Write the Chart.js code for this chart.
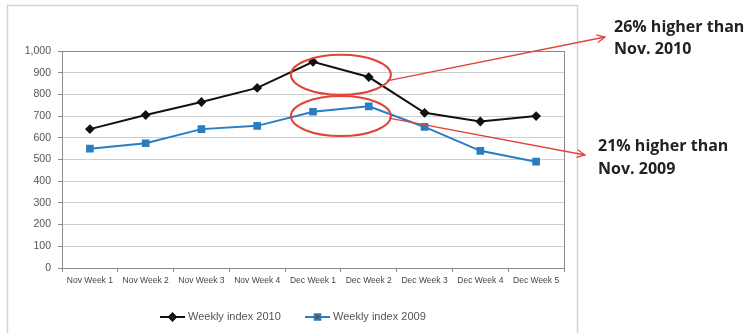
<!DOCTYPE html>
<html>
<head>
<meta charset="utf-8">
<script src="https://cdn.jsdelivr.net/npm/chart.js@4.4.1/dist/chart.umd.min.js"></script>
<style>
  html, body { margin: 0; padding: 0; background: #fff; }
  #wrap { width: 751px; height: 333px; position: relative; }
</style>
</head>
<body>
<div id="wrap"><canvas id="myChart" width="751" height="333"></canvas></div>
<script>
const weeks = ['Nov Week 1', 'Nov Week 2', 'Nov Week 3', 'Nov Week 4', 'Dec Week 1',
  'Dec Week 2', 'Dec Week 3', 'Dec Week 4', 'Dec Week 5']
const index2010 = [640, 705, 765, 830, 950, 880, 715, 675, 700]
const index2009 = [550, 575, 640, 655, 720, 745, 650, 540, 490]
const notes = [['26% higher than', 'Nov. 2010'], ['21% higher than', 'Nov. 2009']]

const ctx = document.getElementById('myChart')

// frame, highlight ellipses, arrows, side notes and legend
const extras = {
  id: 'extras',
  beforeDraw(chart) {
    const c = chart.ctx
    c.save()
    c.strokeStyle = '#d4d4d4'
    c.lineWidth = 1.5
    c.strokeRect(7.5, 5.5, 570, 340)
    c.restore()
  },
  afterDatasetsDraw(chart) {
    const c = chart.ctx
    const a = chart.chartArea
    const xs = chart.scales.x
    const ys = chart.scales.y
    c.save()
    // plot area border
    c.strokeStyle = '#8a8a8a'
    c.lineWidth = 1
    c.strokeRect(a.left + 0.5, a.top + 0.5, a.right - a.left, a.bottom - a.top)

    const cx = (xs.getPixelForValue(4) + xs.getPixelForValue(5)) / 2
    const e1 = ys.getPixelForValue(890)
    const e2 = ys.getPixelForValue(700)
    c.strokeStyle = '#e0443a'
    c.lineWidth = 2
    c.beginPath(); c.ellipse(cx, e1, 50, 20, 0, 0, Math.PI * 2); c.stroke()
    c.beginPath(); c.ellipse(cx, e2, 50, 20, 0, 0, Math.PI * 2); c.stroke()

    const arrow = (x1, y1, x2, y2) => {
      c.strokeStyle = '#e0443a'
      c.lineWidth = 1.3
      c.beginPath(); c.moveTo(x1, y1); c.lineTo(x2, y2); c.stroke()
      const ang = Math.atan2(y2 - y1, x2 - x1)
      c.beginPath()
      c.moveTo(x2 - 9 * Math.cos(ang - 0.45), y2 - 9 * Math.sin(ang - 0.45))
      c.lineTo(x2, y2)
      c.lineTo(x2 - 9 * Math.cos(ang + 0.45), y2 - 9 * Math.sin(ang + 0.45))
      c.stroke()
    }
    arrow(cx + 46, e1 + 6, 605, 37)
    arrow(cx + 48, e2 + 2, 585, 155)

    c.fillStyle = '#222'
    c.font = 'bold 16px "Open Sans"'
    c.textBaseline = 'middle'
    c.fillText(notes[0][0], 614, 27)
    c.fillText(notes[0][1], 614, 49)
    c.fillText(notes[1][0], 598, 146)
    c.fillText(notes[1][1], 598, 169)

    // legend
    const items = [
      { ds: chart.data.datasets[0], x: 160 },
      { ds: chart.data.datasets[1], x: 305 }
    ]
    const ly = 317
    c.font = '11px "Liberation Sans"'
    items.forEach(it => {
      c.strokeStyle = it.ds.borderColor
      c.lineWidth = 2
      c.beginPath(); c.moveTo(it.x, ly); c.lineTo(it.x + 25, ly); c.stroke()
      Chart.helpers.drawPoint(c, { pointStyle: it.ds.pointStyle, radius: it.ds.pointRadius, borderWidth: 1 }, it.x + 12.5, ly)
      c.fillStyle = '#555'
      c.fillText(it.ds.label, it.x + 28, ly)
    })
    c.restore()
  }
}

new Chart(ctx, {
  type: 'line',
  data: {
    labels: [...weeks],
    datasets: [{
      label: 'Weekly index 2010',
      data: [...index2010],
      borderColor: '#111111',
      backgroundColor: '#111111',
      borderWidth: 2,
      pointStyle: 'rectRot',
      pointRadius: 3.5,
      tension: 0
    }, {
      label: 'Weekly index 2009',
      data: [...index2009],
      borderColor: '#2a7dc0',
      backgroundColor: '#2a7dc0',
      borderWidth: 2,
      pointStyle: 'rect',
      pointRadius: 4,
      tension: 0
    }]
  },
  plugins: [extras],
  options: {
    responsive: false,
    animation: false,
    layout: { padding: { left: 10, right: 187, top: 51, bottom: 43 } },
    plugins: { legend: { display: false }, tooltip: { enabled: false } },
    scales: {
      x: {
        offset: true,
        grid: { drawOnChartArea: false, offset: true, tickLength: 4, color: '#8a8a8a' },
        border: { color: '#8a8a8a' },
        ticks: { color: '#444', font: { size: 8.5, family: 'Liberation Sans' }, maxRotation: 0, autoSkip: false, padding: 4 },
        afterFit(s) { s.height = 22 }
      },
      y: {
        min: 0,
        max: 1000,
        ticks: {
          stepSize: 100,
          color: '#555',
          font: { size: 10.5, family: 'Liberation Sans' },
          padding: 7,
          callback: v => v.toLocaleString('en-US')
        },
        grid: { color: '#cfcfcf', tickLength: 4, tickColor: '#8a8a8a' },
        border: { color: '#8a8a8a' },
        afterFit(s) { s.width = 52 }
      }
    }
  }
})
</script>
</body>
</html>
